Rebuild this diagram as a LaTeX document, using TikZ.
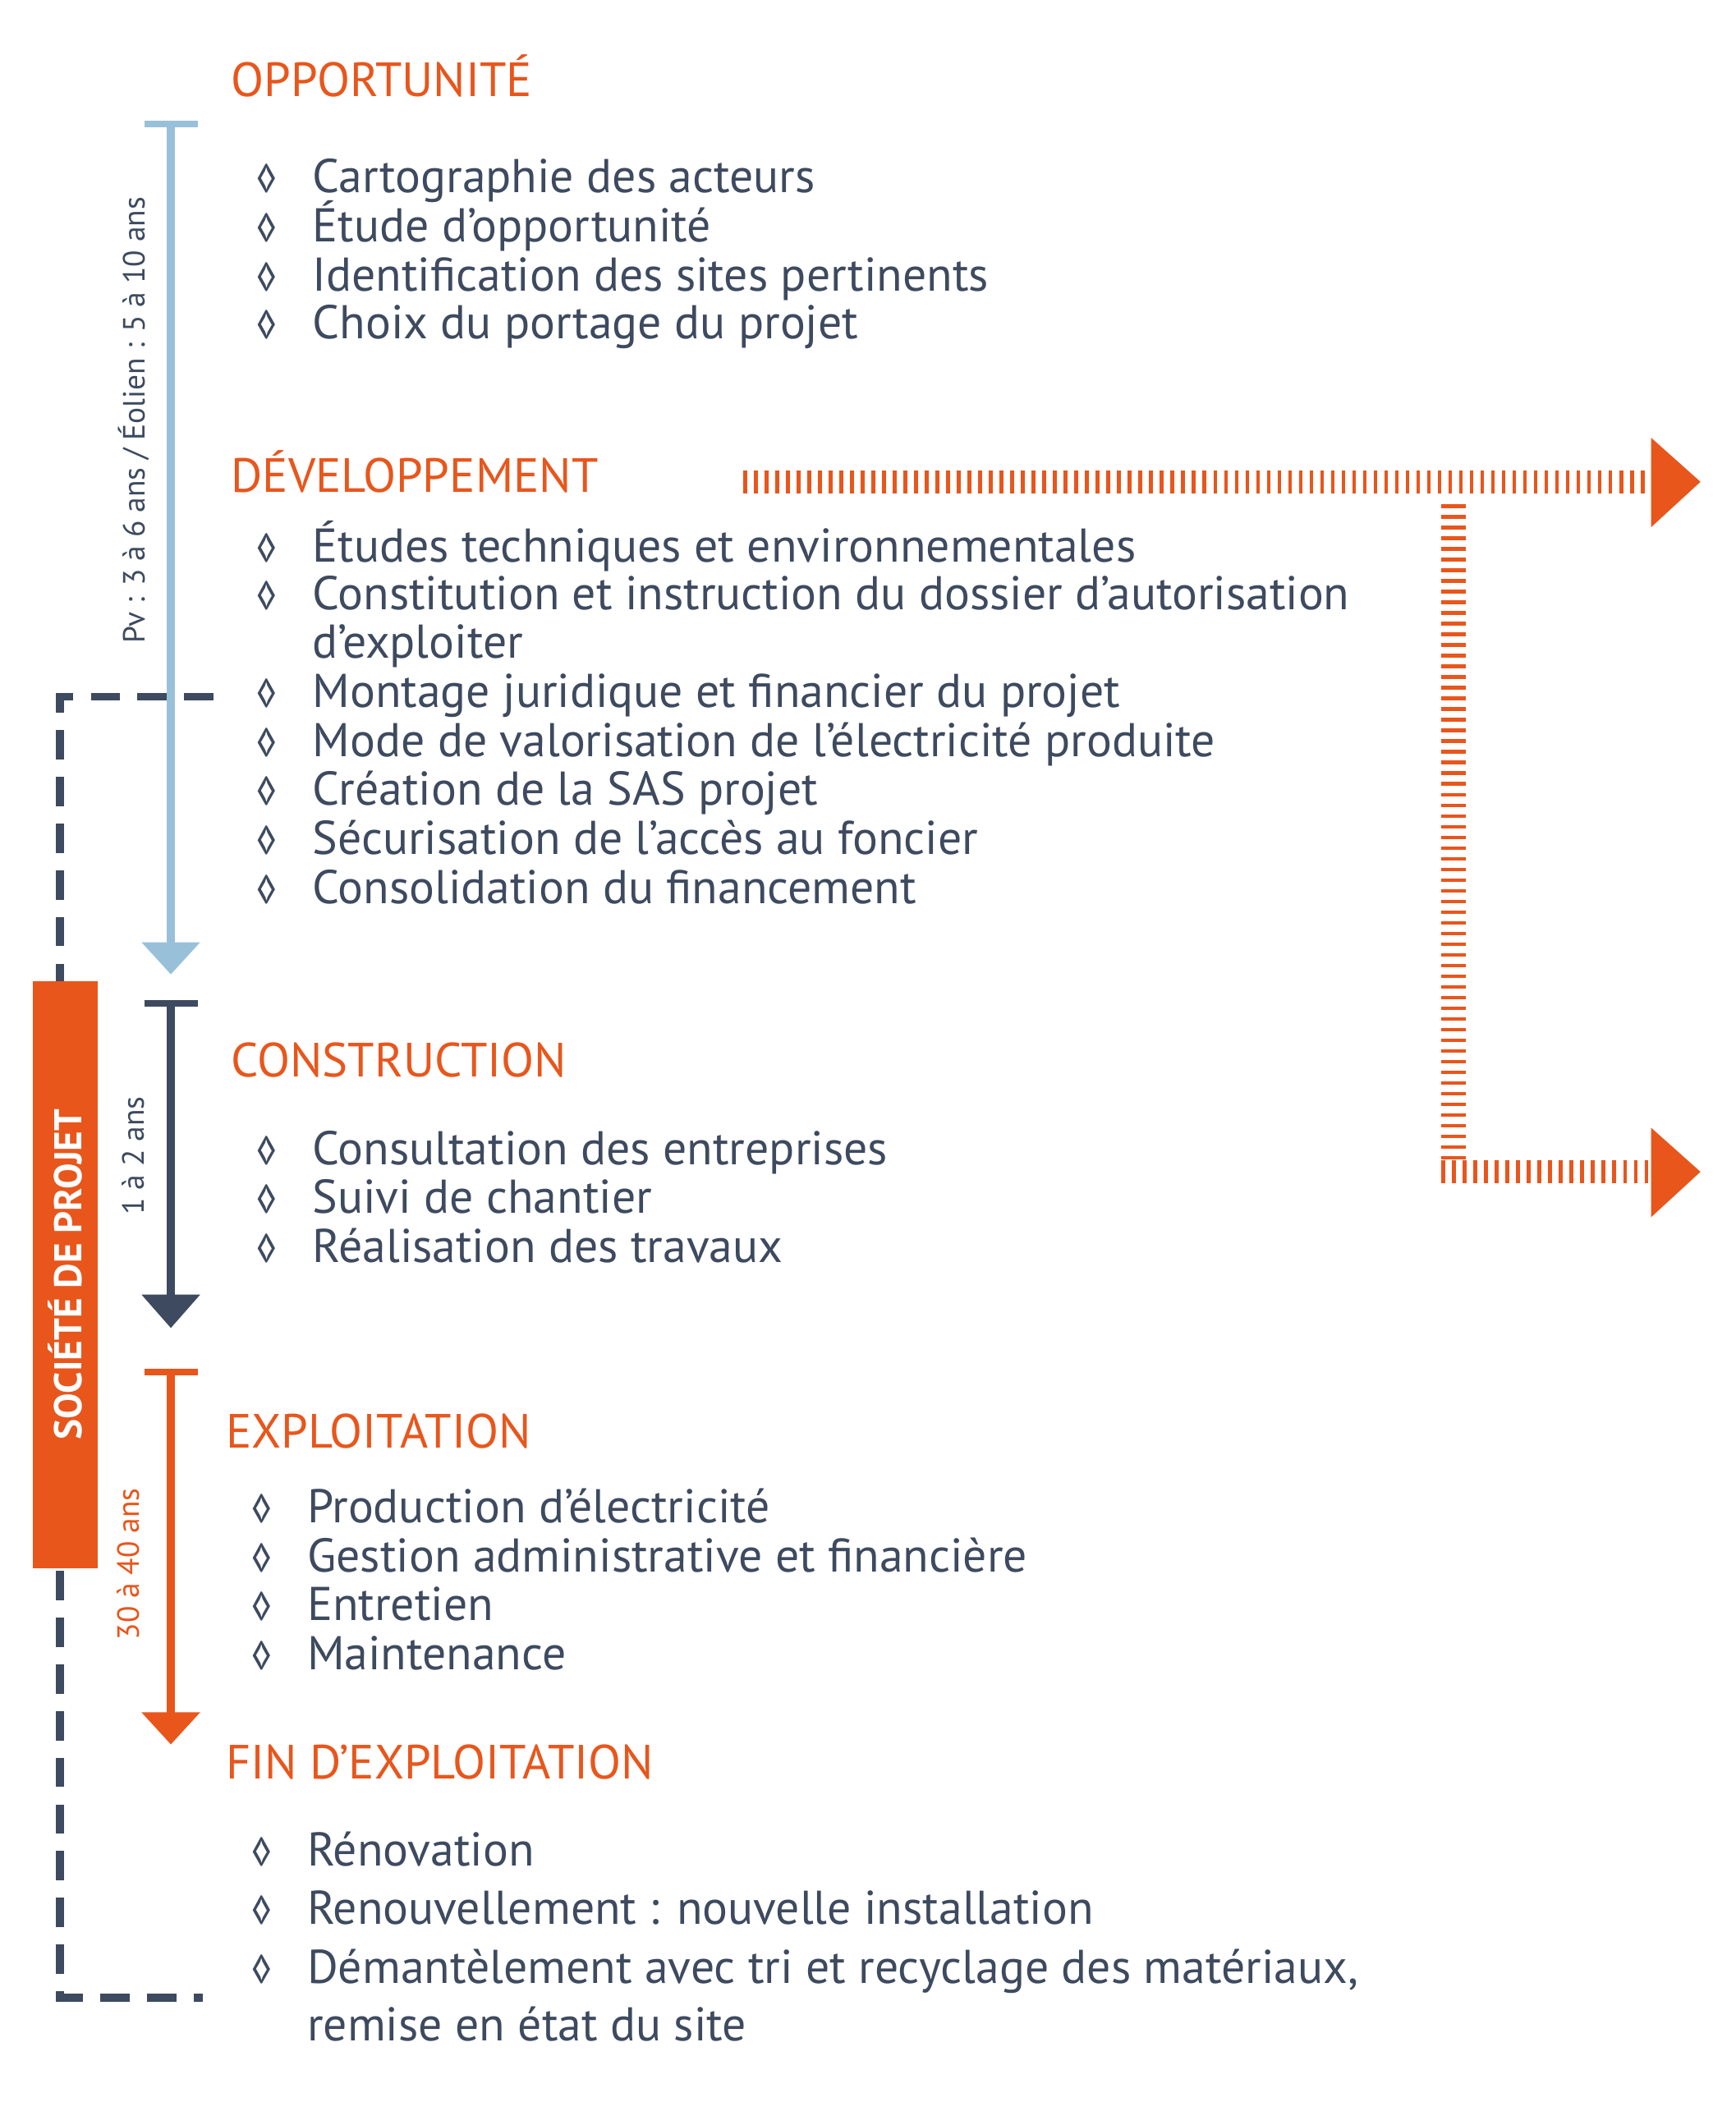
\documentclass[tikz,border=0pt]{standalone}
\usepackage{fontspec}
\setmainfont{PT Sans}
\definecolor{org}{HTML}{E8561C}
\definecolor{drk}{HTML}{3D4A5F}
\definecolor{lbl}{HTML}{98C1D9}
\begin{document}
\begin{tikzpicture}[x=1pt,y=-1pt,
  head/.style={anchor=base west,text=org,font=\fontsize{36}{36}\selectfont,inner sep=0},
  it/.style={anchor=base west,text=drk,font=\fontsize{35.5}{40}\selectfont,inner sep=0,align=left},
  dm/.style={anchor=base,text=drk,font=\fontsize{30}{30}\selectfont,inner sep=0},
  lab/.style={rotate=90,font=\fontsize{23}{23}\selectfont,inner sep=0},
  hatch/.style={org,line width=17pt,dash pattern=on 3pt off 5pt}]
\useasboundingbox (0,0) rectangle (1300,1575);
% timeline arrows
\draw[lbl,line width=6pt] (128,93) -- (128,708);
\draw[lbl,line width=5pt] (108,93) -- (148,93);
\fill[lbl] (106,706) -- (150,706) -- (128,730) -- cycle;
\node[lab,text=drk] (l1) at (100,315) {Pv : 3 à 6 ans / Éolien : 5 à 10 ans};
\draw[drk,line width=6pt] (128,752) -- (128,972);
\draw[drk,line width=5pt] (108,752) -- (148,752);
\fill[drk] (106,970) -- (150,970) -- (128,995) -- cycle;
\node[lab,text=drk] (l2) at (100,866) {1 à 2 ans};
\draw[org,line width=6pt] (128,1028) -- (128,1285);
\draw[org,line width=5pt] (108,1028) -- (148,1028);
\fill[org] (106,1283) -- (150,1283) -- (128,1307) -- cycle;
\node[lab,text=org] (l3) at (96,1172) {30 à 40 ans};
% dashed bracket
\coordinate (d1) at (160,522); \coordinate (d2) at (45,522);
\coordinate (d3) at (45,1497); \coordinate (d4) at (152,1497);
\draw[drk,line width=6pt,dash pattern=on 22pt off 13pt] (d1) -- (d2) -- (d3) -- (d4);
\node[fill=org,minimum width=49pt,minimum height=440pt,inner sep=0] (sp) at (49,955) {};
\node[rotate=90,text=white,font=\bfseries\fontsize{29}{29}\selectfont] at (sp.center) {SOCIÉTÉ DE PROJET};
% hatched arrows
\coordinate (h1) at (557,361); \coordinate (h2) at (1238,361);
\coordinate (v1) at (1089,378); \coordinate (v2) at (1089,870);
\coordinate (h3) at (1080,878); \coordinate (h4) at (1238,878);
\draw[hatch] (h1) -- (h2);
\draw[hatch,line width=18pt] (v1) -- (v2);
\draw[hatch] (h3) -- (h4);
\fill[org] (1237,328) -- (1274,361) -- (1237,395) -- cycle;
\fill[org] (1237,845) -- (1274,878) -- (1237,912) -- cycle;
% headings
\node[head] (o) at (173,72) {OPPORTUNITÉ};
\node[head] (d) at (173,369) {DÉVELOPPEMENT};
\node[head] (c) at (173,807) {CONSTRUCTION};
\node[head] (e) at (169,1085) {EXPLOITATION};
\node[head] (f) at (169,1333) {FIN D’EXPLOITATION};
% items
\foreach \y/\t in {144/Cartographie des acteurs,181/Étude d’opportunité,218/Identification des sites pertinents,254/Choix du portage du projet,
  421/Études techniques et environnementales,457/Constitution et instruction du dossier d’autorisation,
  530/Montage juridique et financier du projet,567/Mode de valorisation de l’électricité produite,603/Création de la SAS projet,640/Sécurisation de l’accès au foncier,677/Consolidation du financement,
  873/Consultation des entreprises,909/Suivi de chantier,946/Réalisation des travaux}
  {\node[dm] at (200,\y) {◊}; \node[it] at (234,\y) {\t};}
\node[it] (x) at (234,493) {d’exploiter};
\foreach \y/\t in {1141/Production d’électricité,1178/Gestion administrative et financière,1214/Entretien,1251/Maintenance,
  1398/Rénovation,1442/Renouvellement : nouvelle installation,1486/{Démantèlement avec tri et recyclage des matériaux,}}
  {\node[dm] at (196,\y) {◊}; \node[it] at (230,\y) {\t};}
\node[it] (y) at (230,1529) {remise en état du site};
\end{tikzpicture}
\end{document}
